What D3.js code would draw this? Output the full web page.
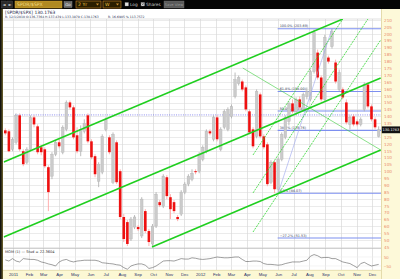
<!DOCTYPE html>
<html>
<head>
<meta charset="utf-8">
<script src="https://cdn.jsdelivr.net/npm/d3@7"></script>
<style>
  body { margin: 0; background: #fff; overflow: hidden; }
  svg { display: block; font-family: "DejaVu Sans", Arial, sans-serif; }
</style>
</head>
<body>
<div id="chart"></div>
<script>
/* weekly candle chart with channel lines, fib levels and momentum panel */

// weekly bars, one per Friday from 17 Dec 2010 to 14 Dec 2012
var weeks = d3.timeFriday.range(new Date(2010, 11, 17), new Date(2012, 11, 15));

var opens = [129.8,129.1,116.0,121.1,140.7,114.6,106.6,116.0,139.2,132.7,
  117.5,116.0,103.0,96.5,112.4,121.1,113.9,130.5,150.1,146.5,
  126.2,114.6,129.1,140.7,121.8,111.0,92.8,99.4,130.5,124.7,
  92.1,121.1,100.1,66.8,63.1,50.8,59.5,59.5,53.0,71.1,
  56.6,47.2,60.2,77.6,74.7,95.7,81.2,77.6,66.8,68.9,
  84.9,90.7,94.3,100.1,100.1,108.8,114.6,129.1,123.3,139.2,
  116.0,132.0,130.5,139.9,154.4,163.8,165.3,161.0,143.6,130.5,
  125.4,155.9,125.4,119.6,92.1,106.6,87.0,108.8,124.7,136.3,
  149.4,143.6,152.3,145.0,154.4,152.3,172.5,186.3,168.2,152.3,
  182.7,190.7,179.1,159.5,159.5,150.1,134.1,139.9,136.3,134.1,
  145.0,163.1,147.2,137.8,125.4];

var highs = [131.2,130.5,124.7,142.1,142.1,116.0,117.5,140.7,140.7,134.1,
  118.9,117.5,104.4,113.9,122.5,123.3,133.4,151.5,151.5,147.9,
  132.0,133.4,137.8,142.1,123.3,112.4,106.6,126.9,139.2,126.2,
  128.3,122.5,101.5,68.9,64.6,66.8,68.2,60.9,81.2,72.5,
  58.0,61.7,84.9,79.1,97.9,97.2,83.4,79.1,68.2,86.3,
  92.1,97.9,101.5,101.5,113.9,118.9,130.5,130.5,140.7,140.7,
  132.0,145.0,146.5,148.6,171.8,169.6,166.7,162.4,145.0,132.0,
  159.5,157.3,126.9,121.1,108.0,108.0,110.2,128.3,140.7,150.8,
  152.3,153.7,154.4,157.3,161.0,174.0,203.0,188.5,169.6,199.3,
  184.1,203.7,181.2,174.0,161.0,152.3,140.7,141.4,137.8,139.2,
  164.6,164.6,148.6,139.2,132.7];

var lows = [126.2,113.9,114.6,119.6,114.6,103.7,105.2,114.6,132.0,112.4,
  111.7,102.3,71.1,94.3,111.0,116.7,112.4,129.1,145.0,123.3,
  113.1,111.0,127.6,120.4,108.8,95.7,88.5,97.9,129.1,112.4,
  90.7,90.7,65.3,48.6,45.7,49.4,58.0,56.6,51.5,55.2,
  45.7,45.7,58.8,74.0,73.3,79.8,65.3,69.6,63.8,67.5,
  83.4,89.2,92.8,97.9,98.6,107.3,113.1,126.2,121.8,121.8,
  114.6,130.5,129.1,138.5,153.0,162.4,158.1,143.6,126.9,116.7,
  124.0,124.0,116.0,89.2,90.7,84.1,84.9,107.3,123.3,133.4,
  142.1,140.7,145.0,143.6,152.3,150.8,171.1,166.7,150.8,150.8,
  178.3,189.2,163.8,158.1,152.3,134.1,130.5,132.7,132.7,132.7,
  143.6,145.7,136.3,130.5,124.7];

var closes = [127.6,114.6,123.3,140.7,116.0,105.2,116.0,139.2,134.1,113.9,
  113.9,103.7,84.9,112.4,121.1,118.2,132.0,150.1,146.5,124.7,
  114.6,130.5,134.9,121.8,110.2,97.9,105.2,125.4,137.8,113.9,
  126.9,92.1,66.8,50.8,47.2,65.3,66.8,58.0,79.8,56.6,
  48.6,60.2,83.4,75.4,96.5,82.0,72.5,71.1,65.3,84.9,
  90.7,96.5,98.6,99.4,112.4,117.5,129.1,127.6,139.2,123.3,
  130.5,143.6,145.0,147.2,166.7,168.2,159.5,145.0,128.3,118.2,
  158.1,125.4,117.5,90.7,106.6,87.0,108.8,126.9,139.2,149.4,
  143.6,152.3,146.5,155.9,158.1,172.5,200.8,168.2,152.3,197.2,
  179.8,201.5,165.3,171.8,153.7,135.6,139.2,134.1,134.1,137.8,
  163.1,147.2,137.8,132.0,130.18];

// MOM (1) lower panel
var momentum = [18,5,32,5,-5,32,27,23,23,14,
  -5,-14,-27,-36,-50,-5,14,23,5,-5,
  5,9,14,14,14,14,5,-14,-18,-23,
  -27,-36,-41,-68,-86,-50,-36,-27,-27,-41,
  -77,-68,-50,-23,5,9,9,5,18,32,
  27,27,41,36,27,23,27,32,41,50,
  45,41,41,45,50,50,23,0,0,5,
  5,0,-23,-32,-32,-36,-41,-36,-23,-14,
  -5,-5,-5,5,14,59,77,64,41,45,
  45,32,32,14,-5,-14,-23,-45,-68,-23,
  -9,-32,-50,-41,-32];

// drawn studies: [date, price] end points
var channelUpper  = [["2010-12-14", 106.8], ["2012-10-05", 210.7]];
var channelMiddle = [["2010-12-14", 52.3],  ["2012-12-18", 167.8]];
var channelLower  = [["2011-09-29", 45.0],  ["2012-12-18", 115.5]];
var fanLine       = [["2012-03-24", 175.1], ["2012-12-18", 115.5]];
var forkLines = [
  [["2012-04-13", 111.9], ["2012-10-05", 210.7]],
  [["2012-04-13", 84.3],  ["2012-11-23", 210.7]],
  [["2012-04-13", 55.9],  ["2012-12-18", 195.5]]
];
var fibLow = 84.07, fibHigh = 203.69;
var fibTrend = [["2012-06-01", fibLow], ["2012-09-14", fibHigh]];
var fibLevels = [1, 0.618, 0.5, 0.382, 0, -0.272];
var fibStart = "2012-05-31";
var dottedLevel = 141.0, dottedStart = "2011-01-05";

var priceTicks = d3.range(45, 211, 5);
var lastPrice = 130.1763;

var parse = d3.timeParse("%Y-%m-%d");
var plotL = 3.5, plotR = 381, plotT = 19, plotB = 248;

var x = d3.scaleTime()
  .domain([new Date(2011, 0, 1), new Date(2012, 11, 1)])
  .range([13, 372]);
var y = d3.scaleLinear().domain([45, 210]).range([247, 20]);
var ym = d3.scaleLinear().domain([-100, 100]).range([270.5, 252.5]);

var svg = d3.select("#chart").append("svg")
  .attr("width", 400).attr("height", 279);

svg.append("rect").attr("width", 400).attr("height", 279).attr("fill", "#fff");

// ---- toolbar
var tb = svg.append("g");
tb.append("rect").attr("width", 400).attr("height", 9).attr("fill", "#050505");
[[1.5, "\u25C4"], [7.5, "\u25BA"]].forEach(function(b) {
  tb.append("rect").attr("x", b[0]).attr("y", 1).attr("width", 5).attr("height", 7)
    .attr("fill", "#2a2a2a").attr("stroke", "#555").attr("stroke-width", 0.4);
  tb.append("text").attr("x", b[0] + 2.5).attr("y", 6.3).attr("text-anchor", "middle")
    .attr("font-size", 4).attr("fill", "#ccc").text(b[1]);
});
tb.append("rect").attr("x", 15).attr("y", 1).attr("width", 47).attr("height", 7)
  .attr("fill", "#b08a22").attr("stroke", "#d8a838").attr("stroke-width", 0.5);
tb.append("text").attr("x", 17).attr("y", 6.3).attr("font-size", 4.6).attr("fill", "#f4dc80").text("SPDR/$SPX");
tb.append("rect").attr("x", 64).attr("y", 1.5).attr("width", 8).attr("height", 6)
  .attr("fill", "#6a6a6a").attr("stroke", "#999").attr("stroke-width", 0.4);
tb.append("text").attr("x", 68).attr("y", 6.2).attr("text-anchor", "middle").attr("font-size", 4).attr("fill", "#eee").text("Go");
[[76, 25, "2 Yr"], [103, 18, "W"]].forEach(function(f) {
  tb.append("rect").attr("x", f[0]).attr("y", 1).attr("width", f[1]).attr("height", 7)
    .attr("fill", "#2a1e00").attr("stroke", "#d08a28").attr("stroke-width", 0.6);
  tb.append("text").attr("x", f[0] + 2).attr("y", 6.3).attr("font-size", 4.6).attr("fill", "#f0c040").text(f[2]);
  tb.append("path").attr("d", "M" + (f[0] + f[1] - 5) + ",3.5h3l-1.5,2z").attr("fill", "#d09030");
});
[[125, "Log", false], [141, "Shares", true]].forEach(function(c) {
  tb.append("rect").attr("x", c[0]).attr("y", 2.5).attr("width", 3.5).attr("height", 3.5)
    .attr("fill", "#ddd").attr("stroke", "#888").attr("stroke-width", 0.3);
  if (c[2]) tb.append("path").attr("d", "M" + (c[0] + 0.6) + ",3.1l2.3,2.3M" + (c[0] + 2.9) + ",3.1l-2.3,2.3")
    .attr("stroke", "#333").attr("stroke-width", 0.5);
  tb.append("text").attr("x", c[0] + 5).attr("y", 6.2).attr("font-size", 4.3).attr("fill", "#ccc").text(c[1]);
});
tb.append("rect").attr("x", 164).attr("y", 1).attr("width", 20).attr("height", 7)
  .attr("fill", "#5a5a5a").attr("stroke", "#777").attr("stroke-width", 0.4);
tb.append("text").attr("x", 174).attr("y", 6).attr("text-anchor", "middle").attr("font-size", 3.6).attr("fill", "#999").text("Save View");

// ---- left strip and right axis column
svg.append("rect").attr("x", 0).attr("y", 9).attr("width", 3).attr("height", 270).attr("fill", "#151510");
svg.append("line").attr("x1", 2.2).attr("x2", 2.2).attr("y1", 9).attr("y2", 279).attr("stroke", "#c9b347").attr("stroke-width", 0.6);
svg.append("rect").attr("x", plotR).attr("y", 9).attr("width", 400 - plotR).attr("height", 270).attr("fill", "#fdf9d9");
svg.append("line").attr("x1", plotR + 0.5).attr("x2", plotR + 0.5).attr("y1", 9).attr("y2", 279).attr("stroke", "#ddd3a0").attr("stroke-width", 0.8);

// ---- header
svg.append("text").attr("x", 5).attr("y", 13.5).attr("font-size", 4.4).attr("fill", "#1c2448")
  .text("[SPDR/$SPX]   130.1763");
svg.append("text").attr("x", 5).attr("y", 17.8).attr("font-size", 3.1).attr("fill", "#2a3050")
  .text("R: 12/1/2010 O:136.7364 H:137.439 L:133.1979 C:130.1763");
svg.append("text").attr("x", 108).attr("y", 17.8).attr("font-size", 3.1).attr("fill", "#2a3050")
  .text("R: 16.6905 % 113.7572");

// ---- grid
var months = d3.timeMonth.range(new Date(2011, 0, 1), new Date(2012, 11, 2));
var grid = svg.append("g");
grid.selectAll("line.h").data(priceTicks).enter().append("line")
  .attr("x1", plotL).attr("x2", plotR).attr("y1", function(d) { return Math.round(y(d)) + 0.5; })
  .attr("y2", function(d) { return Math.round(y(d)) + 0.5; })
  .attr("stroke", "#e2e2e2").attr("stroke-width", 0.7);
grid.selectAll("line.v").data(months).enter().append("line")
  .attr("x1", function(d) { return Math.round(x(d)) + 0.5; }).attr("x2", function(d) { return Math.round(x(d)) + 0.5; })
  .attr("y1", plotT).attr("y2", 270)
  .attr("stroke", "#d9d9d9").attr("stroke-width", 0.7);
grid.selectAll("line.m").data([50, -50]).enter().append("line")
  .attr("x1", plotL).attr("x2", plotR).attr("y1", function(d) { return ym(d); }).attr("y2", function(d) { return ym(d); })
  .attr("stroke", "#ececec").attr("stroke-width", 0.6);
svg.append("line").attr("x1", plotL).attr("x2", plotR).attr("y1", plotT).attr("y2", plotT).attr("stroke", "#cfcfcf").attr("stroke-width", 0.6);
svg.append("line").attr("x1", plotL).attr("x2", plotR).attr("y1", plotB + 0.5).attr("y2", plotB + 0.5).attr("stroke", "#bdbdbd").attr("stroke-width", 0.7);

// ---- clip for drawn studies
svg.append("clipPath").attr("id", "plotclip").append("rect")
  .attr("x", plotL).attr("y", plotT).attr("width", plotR - plotL).attr("height", plotB - plotT);
var studies = svg.append("g").attr("clip-path", "url(#plotclip)");
var candleG = svg.append("g").attr("clip-path", "url(#plotclip)");
var overlay = svg.append("g").attr("clip-path", "url(#plotclip)");

function seg(pts) {
  return pts.map(function(p) { return [x(parse(p[0])), y(p[1])]; });
}
var lineGen = d3.line();

// dotted level
studies.append("line")
  .attr("x1", x(parse(dottedStart))).attr("x2", plotR)
  .attr("y1", y(dottedLevel)).attr("y2", y(dottedLevel))
  .attr("stroke", "#6f6fe8").attr("stroke-width", 0.8).attr("stroke-dasharray", "1,1.3");

// fib levels
var fibX0 = x(parse(fibStart));
fibLevels.forEach(function(f) {
  var price = fibLow + f * (fibHigh - fibLow);
  studies.append("line")
    .attr("x1", fibX0).attr("x2", plotR).attr("y1", y(price)).attr("y2", y(price))
    .attr("stroke", "#7d8ff0").attr("stroke-width", 1.1);
  studies.append("text").attr("x", fibX0 + 2).attr("y", y(price) - 1.3)
    .attr("font-size", 3.4).attr("fill", "#3a3f5a")
    .text(d3.format(".1f")(f * 100) + "% (" + d3.format(".2f")(price) + ")");
});

// ---- candles
var candles = weeks.map(function(d, i) {
  return { date: d, o: opens[i], h: highs[i], l: lows[i], c: closes[i] };
});
candleG.selectAll("line.wick").data(candles).enter().append("line")
  .attr("x1", function(d) { return x(d.date); }).attr("x2", function(d) { return x(d.date); })
  .attr("y1", function(d) { return y(d.h); }).attr("y2", function(d) { return y(d.l); })
  .attr("stroke", function(d) { return d.c >= d.o ? "#a9a9a9" : "#ff9c9c"; })
  .attr("stroke-width", 0.8);
candleG.selectAll("rect.body").data(candles).enter().append("rect")
  .attr("x", function(d) { return x(d.date) - 1.3; })
  .attr("width", 2.6)
  .attr("y", function(d) { return y(Math.max(d.o, d.c)); })
  .attr("height", function(d) { return Math.max(0.9, Math.abs(y(d.o) - y(d.c))); })
  .attr("fill", function(d) { return d.c >= d.o ? "#cbcbcb" : "#ee1010"; })
  .attr("stroke", function(d) { return d.c >= d.o ? "#b4b4b4" : "none"; })
  .attr("stroke-width", 0.4);

// ---- drawn lines on top
overlay.append("path").attr("d", lineGen(seg(fibTrend)))
  .attr("stroke", "#9aa4ee").attr("stroke-width", 0.6).attr("fill", "none");
forkLines.forEach(function(l) {
  overlay.append("path").attr("d", lineGen(seg(l)))
    .attr("stroke", "#2fd62f").attr("stroke-width", 0.8).attr("stroke-dasharray", "2,1").attr("fill", "none");
});
overlay.append("path").attr("d", lineGen(seg(fanLine)))
  .attr("stroke", "#3ccc3c").attr("stroke-width", 0.6).attr("fill", "none");
[channelUpper, channelMiddle, channelLower].forEach(function(l) {
  overlay.append("path").attr("d", lineGen(seg(l)))
    .attr("stroke", "#1fcf1f").attr("stroke-width", 1.6).attr("fill", "none");
});

// ---- price axis (right); the last-price box hides the tick under it
var boxY = y(lastPrice);
var shownTicks = priceTicks.filter(function(t) { return Math.abs(y(t) - boxY) > 5; });
var yAxis = d3.axisRight(y).tickValues(shownTicks).tickSize(0).tickPadding(0);
var ya = svg.append("g").attr("transform", "translate(" + (plotR + 3) + ",0)").call(yAxis);
ya.select(".domain").remove();
ya.selectAll("text").attr("font-size", 4.2).attr("fill", "#eb8c6c").attr("font-family", "DejaVu Sans, sans-serif");

svg.append("rect").attr("x", plotR + 0.8).attr("y", boxY - 3.4).attr("width", 400 - plotR - 0.8).attr("height", 6.8)
  .attr("fill", "#111");
svg.append("text").attr("x", plotR + 1.6).attr("y", boxY + 1.3).attr("font-size", 3.5).attr("fill", "#fff")
  .text(d3.format(".4f")(lastPrice));

// ---- momentum panel
svg.append("text").attr("x", 5).attr("y", 253).attr("font-size", 3.6).attr("fill", "#333")
  .text("MOM (1) \u2014 Stud = 22.3604");
var momPts = weeks.map(function(d, i) { return [x(d), ym(momentum[i])]; });
svg.append("path").attr("d", lineGen(momPts))
  .attr("stroke", "#5e5e5e").attr("stroke-width", 0.6).attr("fill", "none");
var ma = svg.append("g").attr("transform", "translate(" + (plotR + 3) + ",0)")
  .call(d3.axisRight(ym).tickValues([50, -50]).tickSize(0).tickPadding(0));
ma.select(".domain").remove();
ma.selectAll("text").attr("font-size", 4.2).attr("fill", "#eb8c6c");

// ---- time axis (bottom)
svg.append("rect").attr("x", 3).attr("y", 270).attr("width", plotR - 3).attr("height", 9).attr("fill", "#fcf8d4");
svg.append("line").attr("x1", 3).attr("x2", plotR).attr("y1", 270.3).attr("y2", 270.3).attr("stroke", "#d6cd98").attr("stroke-width", 0.6);
var fmtMonth = function(d) { return d.getMonth() === 0 ? d3.timeFormat("%Y")(d) : d3.timeFormat("%b")(d); };
var xa = svg.append("g").attr("transform", "translate(0,272)")
  .call(d3.axisBottom(x).tickValues(months).tickFormat(fmtMonth).tickSize(0).tickPadding(0));
xa.select(".domain").remove();
xa.selectAll("text").attr("font-size", 4.3).attr("fill", "#27306a").attr("dy", "0.9em");
</script>
</body>
</html>
